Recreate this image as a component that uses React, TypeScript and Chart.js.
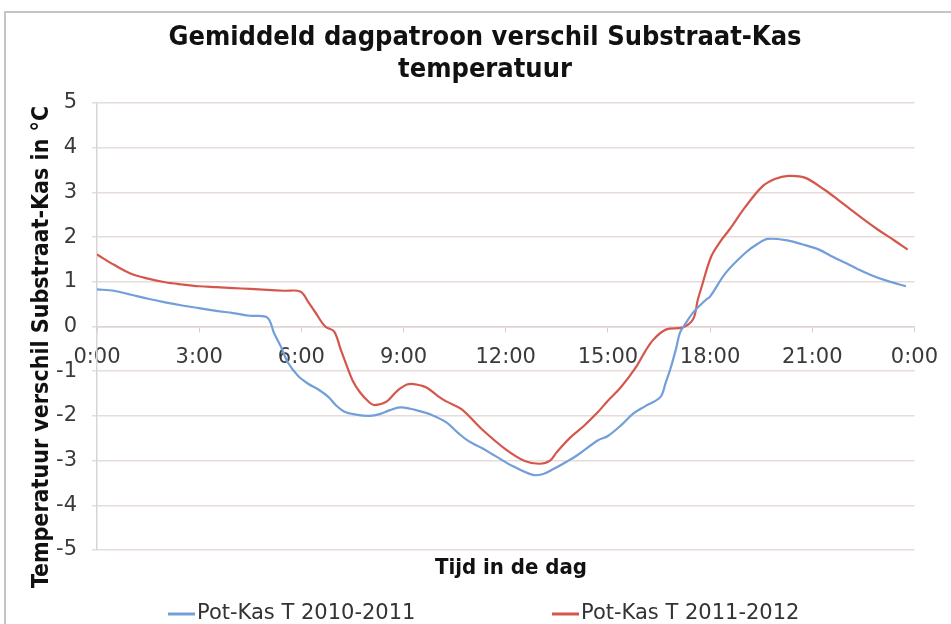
import { useEffect, useRef } from "react";
import { Chart, registerables } from "chart.js";

Chart.register(...registerables);

const titleLines = ["Gemiddeld dagpatroon verschil Substraat-Kas", "temperatuur"];
const xAxisTitle = "Tijd in de dag";
const yAxisTitle = "Temperatuur verschil Substraat-Kas in °C";
const seriesNames = ["Pot-Kas T 2010-2011", "Pot-Kas T 2011-2012"];
const seriesColors = ["#729fd9", "#d5564d"];

const xTickLabels = ["0:00", "3:00", "6:00", "9:00", "12:00", "15:00", "18:00", "21:00", "0:00"];

const hours2010 = [
  0, 0.5, 1.0, 1.5, 2.0, 2.5, 3.0, 3.5, 4.0, 4.5, 5.0, 5.2, 5.4, 5.6, 5.9, 6.2, 6.5, 6.8, 7.0, 7.25,
  7.6, 8.0, 8.3, 8.6, 8.9, 9.2, 9.5, 9.8, 10.25, 10.6, 10.9, 11.3, 11.7, 12.2, 12.8, 13.1, 13.4, 13.8,
  14.1, 14.7, 15.0, 15.4, 15.76, 16.1, 16.54, 16.7, 16.83, 17.0, 17.12, 17.3, 17.5, 17.88, 18.0, 18.46,
  19.04, 19.4, 19.7, 20.3, 20.7, 21.2, 21.6, 21.95, 22.3, 22.7, 23.2, 23.75,
];
const values2010 = [
  0.83, 0.8, 0.71, 0.62, 0.54, 0.47, 0.41, 0.35, 0.3, 0.24, 0.2, -0.15, -0.45, -0.8, -1.1, -1.28, -1.41,
  -1.58, -1.75, -1.9, -1.97, -2.0, -1.96, -1.87, -1.81, -1.84, -1.9, -1.97, -2.14, -2.38, -2.56, -2.72,
  -2.9, -3.12, -3.32, -3.3, -3.19, -3.02, -2.88, -2.55, -2.45, -2.2, -1.94, -1.78, -1.58, -1.25, -0.96,
  -0.5, -0.13, 0.09, 0.31, 0.6, 0.67, 1.2, 1.65, 1.85, 1.96, 1.92, 1.84, 1.72, 1.56, 1.43, 1.3, 1.16,
  1.02, 0.9,
];

const hours2011 = [
  0, 0.5, 1.0, 1.5, 2.0, 2.5, 3.0, 3.5, 4.0, 4.5, 5.0, 5.5, 5.98, 6.2, 6.4, 6.7, 6.96, 7.15, 7.34, 7.5,
  7.72, 8.0, 8.15, 8.5, 8.8, 9.1, 9.3, 9.66, 10.0, 10.24, 10.7, 11.3, 12.0, 12.56, 13.0, 13.3, 13.5,
  13.9, 14.3, 14.7, 15.0, 15.38, 15.84, 16.1, 16.34, 16.7, 17.2, 17.5, 17.64, 17.73, 18.03, 18.3, 18.57,
  19.04, 19.53, 19.9, 20.3, 20.78, 21.36, 21.75, 22.14, 22.5, 22.92, 23.4, 23.8,
];
const values2011 = [
  1.61, 1.38, 1.18, 1.07, 0.99, 0.94, 0.9, 0.88, 0.86, 0.84, 0.82, 0.8, 0.78, 0.55, 0.33, 0.0, -0.11,
  -0.5, -0.89, -1.2, -1.47, -1.7, -1.76, -1.68, -1.45, -1.3, -1.29, -1.36, -1.55, -1.67, -1.85, -2.3,
  -2.75, -3.01, -3.07, -3.0, -2.81, -2.48, -2.22, -1.92, -1.66, -1.36, -0.89, -0.55, -0.29, -0.07,
  -0.02, 0.16, 0.6, 0.83, 1.56, 1.9, 2.17, 2.68, 3.13, 3.3, 3.37, 3.33, 3.06, 2.84, 2.61, 2.4, 2.17,
  1.93, 1.72,
];

const toPoints = (xs: number[], ys: number[]) => xs.map((x, i) => ({ x, y: ys[i] }));

const BOLD_FONT = "'DejaVu Sans Condensed', 'DejaVu Sans', sans-serif";
const REG_FONT = "'DejaVu Sans', sans-serif";

const textPlugin = {
  id: "customTexts",
  afterDraw(chart: any) {
    const { ctx } = chart;
    ctx.save();
    ctx.textAlign = "center";
    ctx.textBaseline = "middle";
    ctx.fillStyle = "#111111";
    ctx.font = `bold 27px ${BOLD_FONT}`;
    ctx.fillText(titleLines[0], 485, 38);
    ctx.fillText(titleLines[1], 485, 70);

    ctx.font = `bold 22px ${BOLD_FONT}`;
    ctx.fillText(xAxisTitle, 511, 568);

    ctx.save();
    ctx.translate(42, 347);
    ctx.rotate(-Math.PI / 2);
    ctx.font = `bold 23px ${BOLD_FONT}`;
    ctx.fillText(yAxisTitle, 0, 0);
    ctx.restore();

    // legend
    const legendItems = [
      { x: 168, color: seriesColors[0], text: seriesNames[0] },
      { x: 552, color: seriesColors[1], text: seriesNames[1] },
    ];
    ctx.font = `21px ${REG_FONT}`;
    ctx.textAlign = "left";
    for (const item of legendItems) {
      ctx.strokeStyle = item.color;
      ctx.lineWidth = 3;
      ctx.beginPath();
      ctx.moveTo(item.x, 614);
      ctx.lineTo(item.x + 27, 614);
      ctx.stroke();
      ctx.fillStyle = "#333333";
      ctx.fillText(item.text, item.x + 29, 614);
    }
    ctx.restore();
  },
};

export default function App() {
  const canvasRef = useRef<HTMLCanvasElement | null>(null);

  useEffect(() => {
    if (!canvasRef.current) return;
    const chart = new Chart(canvasRef.current, {
      type: "line",
      data: {
        datasets: [
          {
            label: seriesNames[0],
            data: toPoints(hours2010, values2010),
            borderColor: seriesColors[0],
            backgroundColor: seriesColors[0],
            borderWidth: 2.2,
            pointRadius: 0,
            tension: 0.35,
          },
          {
            label: seriesNames[1],
            data: toPoints(hours2011, values2011),
            borderColor: seriesColors[1],
            backgroundColor: seriesColors[1],
            borderWidth: 2.2,
            pointRadius: 0,
            tension: 0.35,
          },
        ],
      },
      options: {
        animation: false,
        responsive: true,
        maintainAspectRatio: false,
        layout: { padding: { top: 103, bottom: 74, right: 27, left: 0 } },
        plugins: {
          legend: { display: false },
          title: { display: false },
          tooltip: { enabled: false },
        },
        scales: {
          x: {
            type: "linear",
            position: { y: 0 } as any,
            min: 0,
            max: 24,
            ticks: {
              stepSize: 3,
              padding: 13,
              color: "#3a3a3a",
              font: { family: REG_FONT, size: 21 },
              maxRotation: 0,
              callback: (v: any) => xTickLabels[Math.round(Number(v) / 3)] ?? "",
            },
            grid: { drawOnChartArea: false, drawTicks: true, tickLength: 5, color: "#d8d0cd" },
            border: { display: true, color: "#ddd4d1", width: 1.5 },
          },
          y: {
            min: -5,
            max: 5,
            ticks: {
              stepSize: 1,
              padding: 15,
              color: "#3a3a3a",
              font: { family: REG_FONT, size: 21 },
            },
            grid: { color: "#e6dcd9", lineWidth: 1.5, tickLength: 5 },
            border: { display: true, color: "#d6d6d6", width: 1.5 },
            afterFit: (scale: any) => {
              scale.width = 97;
            },
          },
        },
      },
      plugins: [textPlugin],
    });
    return () => chart.destroy();
  }, []);

  return (
    <div style={{ position: "absolute", left: 0, top: 0, width: 951, height: 624, overflow: "hidden", background: "#ffffff" }}>
      <div
        style={{
          position: "absolute",
          left: 4,
          top: 11,
          width: 960,
          height: 640,
          borderTop: "2px solid #c4c4c4",
          borderLeft: "2px solid #c4c4c4",
        }}
      />
      <div style={{ position: "absolute", left: 0, top: 0, width: 951, height: 624 }}>
        <canvas ref={canvasRef} />
      </div>
    </div>
  );
}
